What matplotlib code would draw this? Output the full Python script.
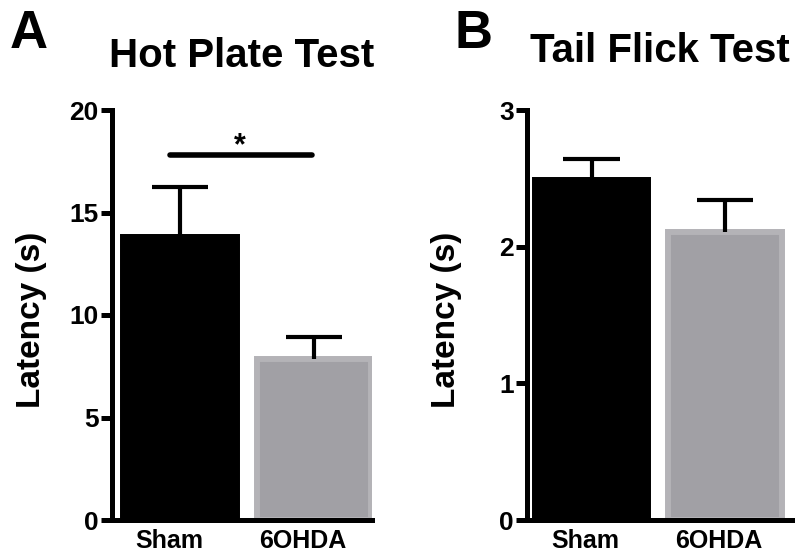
import matplotlib
matplotlib.use('Agg')
import matplotlib.pyplot as plt
import matplotlib.transforms as mtransforms

plt.rcParams['font.family'] = ['Liberation Sans', 'DejaVu Sans']
plt.rcParams['font.weight'] = 'bold'

groups = ['Sham', '6OHDA']
bar_colors = ['#000000', '#a1a0a5']
edge_colors = ['#000000', '#b4b3b7']

# Hot plate test (latency, s)
hot_mean = [13.8, 7.85]
hot_sem = [2.44, 1.06]

# Tail flick test (latency, s)
tail_mean = [2.49, 2.11]
tail_sem = [0.15, 0.235]

fig = plt.figure(figsize=(8, 5.57), dpi=100)
ax1 = fig.add_axes([112 / 800, 37 / 557, 260 / 800, 410 / 557])
ax2 = fig.add_axes([527 / 800, 37 / 557, 265 / 800, 410 / 557])


def draw_panel(ax, means, sems, ylim, yticks, xlim, title, title_pad, label_shift):
    x = list(range(len(groups)))
    ax.bar(x, means, width=0.85, color=bar_colors, edgecolor=edge_colors, linewidth=4.3, zorder=1)
    # upper-only SEM bars, one cap each
    tops = [m + s for m, s in zip(means, sems)]
    ax.vlines(x, means, tops, color='black', linewidth=3, zorder=2)
    ax.hlines(tops, [i - 0.21 for i in x], [i + 0.21 for i in x], color='black',
              linewidth=3, zorder=2)
    ax.set_xlim(*xlim)
    ax.set_ylim(*ylim)
    ax.set_yticks(yticks)
    ax.set_xticks(x)
    ax.set_xticklabels(groups, fontsize=18, fontweight='bold')
    ax.tick_params(axis='y', length=8, width=3.6, pad=1.5, labelsize=19)
    ax.tick_params(axis='x', length=0, pad=6.5)
    for lab in ax.get_yticklabels():
        lab.set_fontweight('bold')
    for side in ['top', 'right']:
        ax.spines[side].set_visible(False)
    for side in ['left', 'bottom']:
        ax.spines[side].set_linewidth(3.6)
        ax.spines[side].set_capstyle('projecting')
    ax.set_title(title, fontsize=29, fontweight='bold', pad=title_pad)
    offset = mtransforms.ScaledTranslation(label_shift / 100, 0, fig.dpi_scale_trans)
    for lab in ax.get_xticklabels():
        lab.set_transform(lab.get_transform() + offset)


draw_panel(ax1, hot_mean, hot_sem, (0, 20), [0, 5, 10, 15, 20], (-0.507, 1.435),
           'Hot Plate Test', 31, -11)
draw_panel(ax2, tail_mean, tail_sem, (0, 3), [0, 1, 2, 3], (-0.483, 1.5),
           'Tail Flick Test', 34.5, -6)

# significance bar between Sham and 6OHDA
ax1.plot([-0.075, 0.985], [17.8, 17.8], color='black', linewidth=4, solid_capstyle='round')
ax1.text(0.45, 17.85, '*', ha='center', va='baseline', fontsize=22, fontweight='bold')

fig.text(32 / 800, 1 - 320 / 557, 'Latency (s)', rotation=90, ha='center', va='center',
         fontsize=24, fontweight='bold')
fig.text(446 / 800, 1 - 320 / 557, 'Latency (s)', rotation=90, ha='center', va='center',
         fontsize=24, fontweight='bold')

fig.text(10 / 800, 1 - 48 / 557, 'A', fontsize=38, fontweight='bold', va='baseline')
fig.text(455 / 800, 1 - 48 / 557, 'B', fontsize=38, fontweight='bold', va='baseline')

fig.savefig('out.png', dpi=100)
